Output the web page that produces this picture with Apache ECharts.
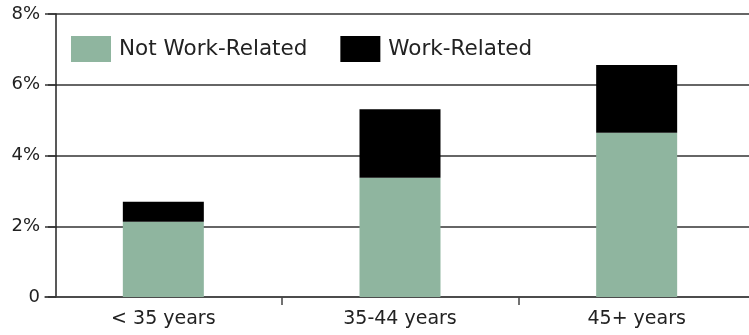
<!DOCTYPE html>
<html><head><meta charset="utf-8">
<script src="https://cdn.jsdelivr.net/npm/echarts@6/dist/echarts.min.js"></script>
<style>html,body{margin:0;padding:0;background:#fff}#c{width:749px;height:335px}</style>
</head><body><div id="c"></div>
<script>
const categories = ['< 35 years', '35-44 years', '45+ years'];
const notWorkRelated = [2.13, 3.37, 4.64];
const workRelated = [0.56, 1.94, 1.92];
const yTicks = [0, 2, 4, 6, 8];

const FONT = 'DejaVu Sans';
const chart = echarts.init(document.getElementById('c'), null, {renderer: 'canvas'});
chart.setOption({
  animation: false,
  backgroundColor: '#ffffff',
  grid: {left: 45, width: 710, top: 14, bottom: 38, containLabel: false, outerBoundsMode: 'none'},
  legend: {
    left: 66, top: 31, itemWidth: 40, itemHeight: 26, itemGap: 33,
    icon: 'rect',
    textStyle: {fontFamily: FONT, fontSize: 21.5, color: '#222', padding: [0, 0, 0, 3]},
    data: ['Not Work-Related', 'Work-Related']
  },
  xAxis: {
    type: 'category', data: categories,
    axisLine: {lineStyle: {color: '#444', width: 1.5}},
    axisTick: {show: true, length: 8, lineStyle: {color: '#444', width: 1.5},
      interval: function (i) { return i === 1 || i === 2; }},
    axisLabel: {fontFamily: FONT, fontSize: 19, color: '#222', margin: 13}
  },
  yAxis: {
    type: 'value', min: 0, max: 8, interval: 2, offset: -11,
    axisLine: {show: true, lineStyle: {color: '#222', width: 1.5}},
    axisTick: {show: true, length: 8, lineStyle: {color: '#333', width: 1.5}},
    splitLine: {lineStyle: {color: '#333', width: 1.5}},
    axisLabel: {fontFamily: FONT, fontSize: 18, color: '#222', margin: 16,
      formatter: function (v) { return yTicks.indexOf(v) >= 0 ? (v === 0 ? '0' : v + '%') : ''; }}
  },
  series: [
    {name: 'Not Work-Related', type: 'bar', stack: 's', data: notWorkRelated, barWidth: 81,
      itemStyle: {color: '#8fb59f'}},
    {name: 'Work-Related', type: 'bar', stack: 's', data: workRelated, barWidth: 81,
      itemStyle: {color: '#000000'}}
  ]
});
</script></body></html>
